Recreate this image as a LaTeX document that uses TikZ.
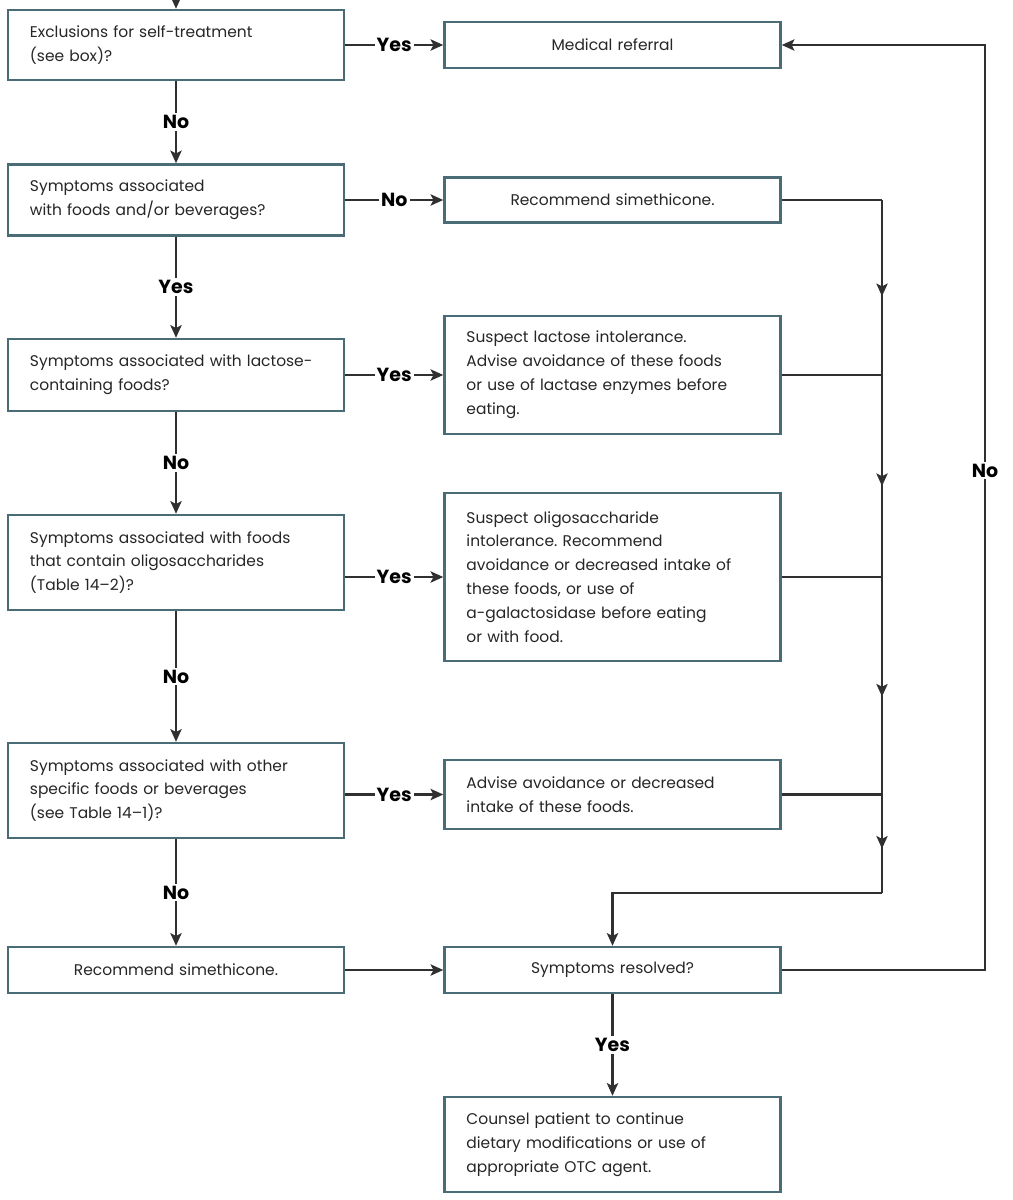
\documentclass[tikz,border=0pt]{standalone}
\usepackage{fontspec}
\setmainfont{Poppins}
\frenchspacing
\usetikzlibrary{arrows.meta,decorations.markings}
\definecolor{boxline}{HTML}{4A6C77}
\definecolor{linegray}{HTML}{303030}
\definecolor{ink}{HTML}{262626}
\tikzset{box/.style={draw=boxline, line width=1.7pt, fill=white, text=ink,
                     font=\fontsize{11}{17}\selectfont, minimum width=8.4cm,
                     inner xsep=0.55cm, inner ysep=0pt, text width=7.3cm},
        question/.style={box, align=left},
        action/.style={box, align=center},
        wire/.style={draw=linegray, line width=1.5pt},
        link/.style={wire, -{Stealth[length=9pt,width=8pt,inset=2pt]}},
        midarrow/.style={wire, postaction={decorate},
                         decoration={markings, mark=at position 0.55 with
                         {\arrow{Stealth[length=9pt,width=8pt,inset=2pt]}}}},
        answer/.style={fill=white, text=black, inner sep=1.5pt,
                       font=\fontsize{13.5}{15}\selectfont\bfseries},
        }
\begin{document}
\begin{tikzpicture}[x=0.025cm, y=-0.025cm]
    \useasboundingbox (0,0) rectangle (1012,1200);

    % left column: questions
    \node[question, minimum height=1.75cm] (excl) at (176,45)
        {Exclusions for self-treatment\\(see box)?};
    \node[question, minimum height=1.775cm] (foods) at (176,200)
        {Symptoms associated\\with foods and/or beverages?};
    \node[question, minimum height=1.8cm] (lactose) at (176,375)
        {Symptoms associated with lactose-\\containing foods?};
    \node[question, minimum height=2.375cm] (oligo) at (176,562.5)
        {Symptoms associated with foods\\that contain oligosaccharides\\(Table 14--2)?};
    \node[question, minimum height=2.375cm] (other) at (176,790.5)
        {Symptoms associated with other\\specific foods or beverages\\(see Table 14--1)?};
    \node[action, minimum height=1.15cm] (simeL) at (176,970)
        {Recommend simethicone.};

    % right column: actions
    \node[action, minimum height=1.15cm] (referral) at (612.5,45)
        {Medical referral};
    \node[action, minimum height=1.125cm] (simeR) at (612.5,200)
        {Recommend simethicone.};
    \node[question, minimum height=2.95cm] (lactoseR) at (612.5,375)
        {Suspect lactose intolerance.\\Advise avoidance of these foods\\or use of lactase enzymes before\\eating.};
    \node[question, minimum height=4.2cm] (oligoR) at (612.5,577)
        {Suspect oligosaccharide\\intolerance. Recommend\\avoidance or decreased intake of\\these foods, or use of\\a-galactosidase before eating\\or with food.};
    \node[question, minimum height=1.725cm] (otherR) at (612.5,794.5)
        {Advise avoidance or decreased\\intake of these foods.};
    \node[action, minimum height=1.15cm] (resolved) at (612.5,970)
        {Symptoms resolved?};
    \node[question, minimum height=2.375cm] (counsel) at (612.5,1144.5)
        {Counsel patient to continue\\dietary modifications or use of\\appropriate OTC agent.};

    \coordinate (entry) at (176,0);
    \coordinate (rail1) at (882,375);
    \coordinate (rail2) at (882,577);
    \coordinate (rail3) at (882,794.5);
    \coordinate (rail4) at (882,893);
    \coordinate (loopbot) at (985,970);
    \coordinate (looptop) at (985,45);

    % main column
    \draw[link] (entry) -- (excl);
    \draw[link] (excl) -- node[answer]{No} (foods);
    \draw[link] (foods) -- node[answer]{Yes} (lactose);
    \draw[link] (lactose) -- node[answer]{No} (oligo);
    \draw[link] (oligo) -- node[answer]{No} (other);
    \draw[link] (other) -- node[answer]{No} (simeL);

    % across
    \draw[link] (excl) -- node[answer]{Yes} (referral);
    \draw[link] (foods) -- node[answer]{No} (simeR);
    \draw[link] (lactose) -- node[answer]{Yes} (lactoseR);
    \draw[link] (oligo.east |- oligoR.west) -- node[answer]{Yes} (oligoR.west);
    \draw[link] (other.east |- otherR.west) -- node[answer]{Yes} (otherR.west);
    \draw[link] (simeL) -- (resolved);
    \draw[link] (resolved) -- node[answer]{Yes} (counsel);

    % collecting rail
    \draw[wire] (simeR.east) -- (simeR.east -| rail1);
    \draw[midarrow] (simeR.east -| rail1) -- (rail1);
    \draw[wire] (lactoseR.east) -- (rail1);
    \draw[midarrow] (rail1) -- (rail2);
    \draw[wire] (oligoR.east) -- (rail2);
    \draw[midarrow] (rail2) -- (rail3);
    \draw[wire] (otherR.east) -- (rail3);
    \draw[midarrow] (rail3) -- (rail4);
    \draw[link] (rail4) -| (resolved.north);

    % not resolved
    \draw[link] (resolved.east) -- (loopbot) -- node[answer, pos=0.54]{No} (looptop) -- (referral.east);
\end{tikzpicture}
\end{document}
